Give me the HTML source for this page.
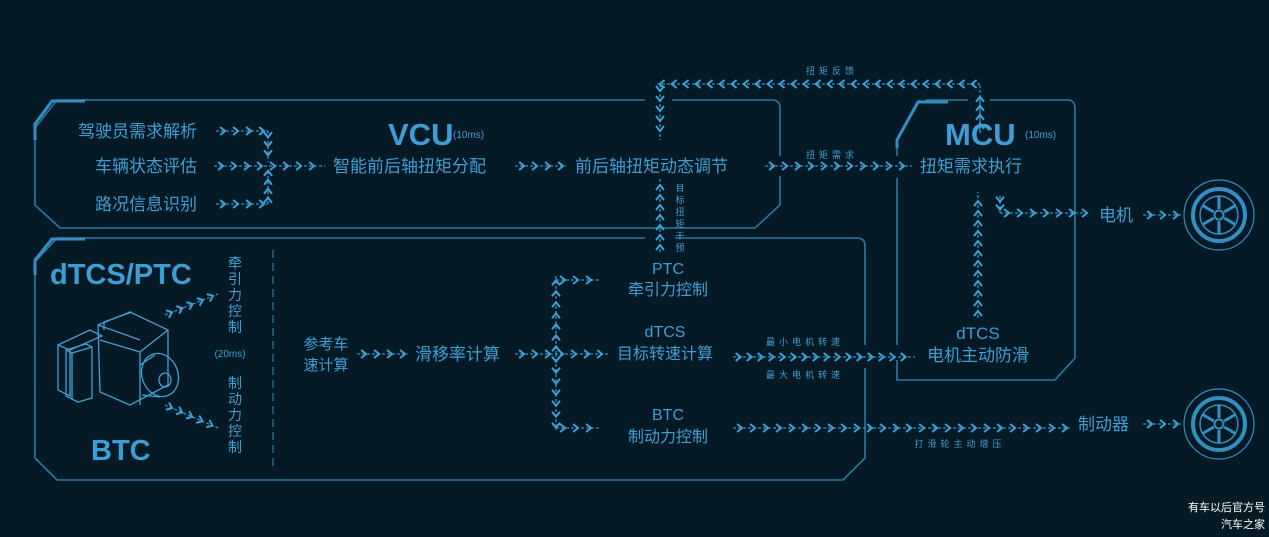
<!DOCTYPE html>
<html><head><meta charset="utf-8"><style>
html,body{margin:0;padding:0;background:#061a26;}
svg{display:block}
text{font-family:"Liberation Sans","Noto Sans CJK SC",sans-serif;fill:#3a9fd6}
</style></head><body>
<svg id="s" width="1269" height="537" viewBox="0 0 1269 537" xmlns="http://www.w3.org/2000/svg">
<rect width="1269" height="537" fill="#061a26"/>
<g fill="none" stroke="#2a78a6" stroke-width="1.6">
 <path d="M57 100 L645 100 M672 100 L772 100 Q780 100 780 108 L780 156 M780 176 L780 205 L755 228 L60 228 L35 205 L35 128 L57 100"/>
 <path d="M35 140 L35 124 L52 101 L85 101" stroke="#2f8fc6" stroke-width="3"/>
 <path d="M57 238 L645 238 M675 238 L857 238 Q865 238 865 246 L865 345 M865 368 L865 458 L843 480 L57 480 L35 458 L35 262 L57 238"/>
 <path d="M35 275 L35 260 L52 239 L85 239" stroke="#2f8fc6" stroke-width="3"/>
 <path d="M925 100 L968 100 M990 100 L1067 100 Q1075 100 1075 108 L1075 358 L1055 380 L897 380 L897 360 M897 345 L897 178 M897 156 L897 140 L920 100"/>
 <path d="M897 148 L897 140 L918 102 L948 102" stroke="#2f8fc6" stroke-width="3"/>
 <line x1="273" y1="250" x2="273" y2="468" stroke-dasharray="8 5" stroke-width="1.2"/>
 <g stroke="#2f8fc6" id="w1">
  <circle cx="1219" cy="215" r="35" stroke-width="1.2"/>
  <circle cx="1219" cy="215" r="26" stroke-width="4"/>
  <circle cx="1219" cy="215" r="19" stroke-width="1.5"/>
  <circle cx="1219" cy="215" r="4.5" stroke-width="2"/>
  <circle cx="1219" cy="424" r="35" stroke-width="1.2"/>
  <circle cx="1219" cy="424" r="26" stroke-width="4"/>
  <circle cx="1219" cy="424" r="19" stroke-width="1.5"/>
  <circle cx="1219" cy="424" r="4.5" stroke-width="2"/>
 </g>
 <g stroke="#3aa0d8" stroke-width="1.3">
  <path d="M58 345 L58 390 L70 396 L70 350 Z M58 345 L90 330 L102 336 L70 350"/>
  <path d="M66 350 L86 344 L92 347 L92 398 L78 402 L66 396 Z M66 350 L72 353 L72 399 M72 353 L92 347"/>
  <path d="M98 325 L130 312 L168 330 L168 385 L130 405 L100 392 Z M100 340 L140 352 L168 330 M140 352 L140 405 M98 325 L140 340"/>
  <path d="M104 330 L104 322 L132 312"/>
  <ellipse cx="160" cy="375" rx="18" ry="22" transform="rotate(-20 160 375)"/>
  <ellipse cx="165" cy="380" rx="6" ry="7"/>
  <path d="M140 365 L155 355 M142 395 L160 397"/>
 </g>
</g>
<g id="arr"></g>
<g font-size="17">
 <text x="197" y="137" text-anchor="end">驾驶员需求解析</text>
 <text x="197" y="172" text-anchor="end">车辆状态评估</text>
 <text x="197" y="210" text-anchor="end">路况信息识别</text>
 <text x="333" y="172">智能前后轴扭矩分配</text>
 <text x="575" y="172">前后轴扭矩动态调节</text>
 <text x="920" y="172">扭矩需求执行</text>
 <text x="668" y="274" text-anchor="middle" font-size="16">PTC</text>
 <text x="668" y="295" text-anchor="middle" font-size="16">牵引力控制</text>
 <text x="665" y="337" text-anchor="middle" font-size="16">dTCS</text>
 <text x="665" y="359" text-anchor="middle" font-size="16">目标转速计算</text>
 <text x="668" y="420" text-anchor="middle" font-size="16">BTC</text>
 <text x="668" y="442" text-anchor="middle" font-size="16">制动力控制</text>
 <text x="326" y="349" text-anchor="middle" font-size="15">参考车</text>
 <text x="326" y="370" text-anchor="middle" font-size="15">速计算</text>
 <text x="415" y="360">滑移率计算</text>
 <text x="978" y="339" text-anchor="middle">dTCS</text>
 <text x="978" y="361" text-anchor="middle">电机主动防滑</text>
 <text x="1099" y="221">电机</text>
 <text x="1078" y="430">制动器</text>
</g>
<text x="388" y="145" font-size="31" font-weight="bold">VCU</text>
<text x="453" y="138" font-size="10">(10ms)</text>
<text x="945" y="145" font-size="31" font-weight="bold">MCU</text>
<text x="1025" y="138" font-size="10">(10ms)</text>
<text x="50" y="284" font-size="29" font-weight="bold">dTCS/PTC</text>
<text x="91" y="460" font-size="29" font-weight="bold">BTC</text>
<g font-size="14" text-anchor="middle">
 <text x="235" y="268">牵</text><text x="235" y="284">引</text><text x="235" y="300">力</text><text x="235" y="316">控</text><text x="235" y="332">制</text>
 <text x="235" y="388">制</text><text x="235" y="404">动</text><text x="235" y="420">力</text><text x="235" y="436">控</text><text x="235" y="452">制</text>
</g>
<text x="230" y="357" font-size="10" text-anchor="middle">(20ms)</text>
<g font-size="9" letter-spacing="4" text-anchor="middle">
 <text x="832" y="74">扭矩反馈</text>
 <text x="832" y="158">扭矩需求</text>
 <text x="805" y="345">最小电机转速</text>
 <text x="805" y="378">最大电机转速</text>
 <text x="960" y="447">打滑轮主动增压</text>
</g>
<g font-size="9" text-anchor="middle">
 <text x="680" y="191">目</text><text x="680" y="203">标</text><text x="680" y="215">扭</text><text x="680" y="227">矩</text><text x="680" y="239">干</text><text x="680" y="251">预</text>
</g>
<g font-size="11" text-anchor="end">
 <text x="1265" y="511" style="fill:#fff">有车以后官方号</text>
 <text x="1265" y="528" style="fill:#fff">汽车之家</text>
</g>
<script>
(function(){
var g=document.getElementById('arr'),NS='http://www.w3.org/2000/svg';
function el(t,a){var e=document.createElementNS(NS,t);for(var k in a)e.setAttribute(k,a[k]);g.appendChild(e);}
function A(x1,y1,x2,y2,step){step=step||13;var dx=x2-x1,dy=y2-y1,L=Math.hypot(dx,dy),ux=dx/L,uy=dy/L,px=-uy,py=ux;
 el('line',{x1:x1,y1:y1,x2:x2,y2:y2,stroke:'#2f8fc6','stroke-width':1.3,'stroke-dasharray':'3 2'});
 for(var d=step*0.7;d<=L+0.1;d+=step){var cx=x1+ux*d,cy=y1+uy*d;
  var p='M'+(cx-ux*5+px*4)+' '+(cy-uy*5+py*4)+' L'+cx+' '+cy+' L'+(cx-ux*5-px*4)+' '+(cy-uy*5-py*4);
  el('path',{d:p,fill:'none',stroke:'#3aa0d8','stroke-width':2});}}
function S(x1,y1,x2,y2){el('line',{x1:x1,y1:y1,x2:x2,y2:y2,stroke:'#2f8fc6','stroke-width':1.3,'stroke-dasharray':'3 2'});}
A(216,131,268,131);A(216,204,268,204);A(214,166,325,166);
A(268,131,268,162,9);A(268,204,268,170,9);
A(515,166,566,166);A(765,166,912,166);
S(980,133,980,84);A(980,130,980,95,9);A(980,84,657,84,12);A(660,84,660,140,10);
A(660,252,660,178,10);
A(357,354,408,354);A(515,354,608,354);
A(556,354,556,276,11);A(556,354,556,430,11);
A(556,280,600,280);A(556,428,600,428);
A(733,357,915,357,11);
A(978,318,978,192,10);
A(1000,196,1000,213,8);A(1000,213,1090,213);
A(1143,215,1181,215);A(733,428,1070,428);A(1143,424,1181,424);
A(165,315,218,294,11);A(165,405,218,428,11);
// wheel spokes
[[1219,215],[1219,424]].forEach(function(c){for(var i=0;i<6;i++){var a=i*Math.PI/3-Math.PI/2;
 el('line',{x1:c[0]+Math.cos(a)*6,y1:c[1]+Math.sin(a)*6,x2:c[0]+Math.cos(a)*19,y2:c[1]+Math.sin(a)*19,stroke:'#2f8fc6','stroke-width':3});}});
})();
</script>
</svg>
</body></html>
